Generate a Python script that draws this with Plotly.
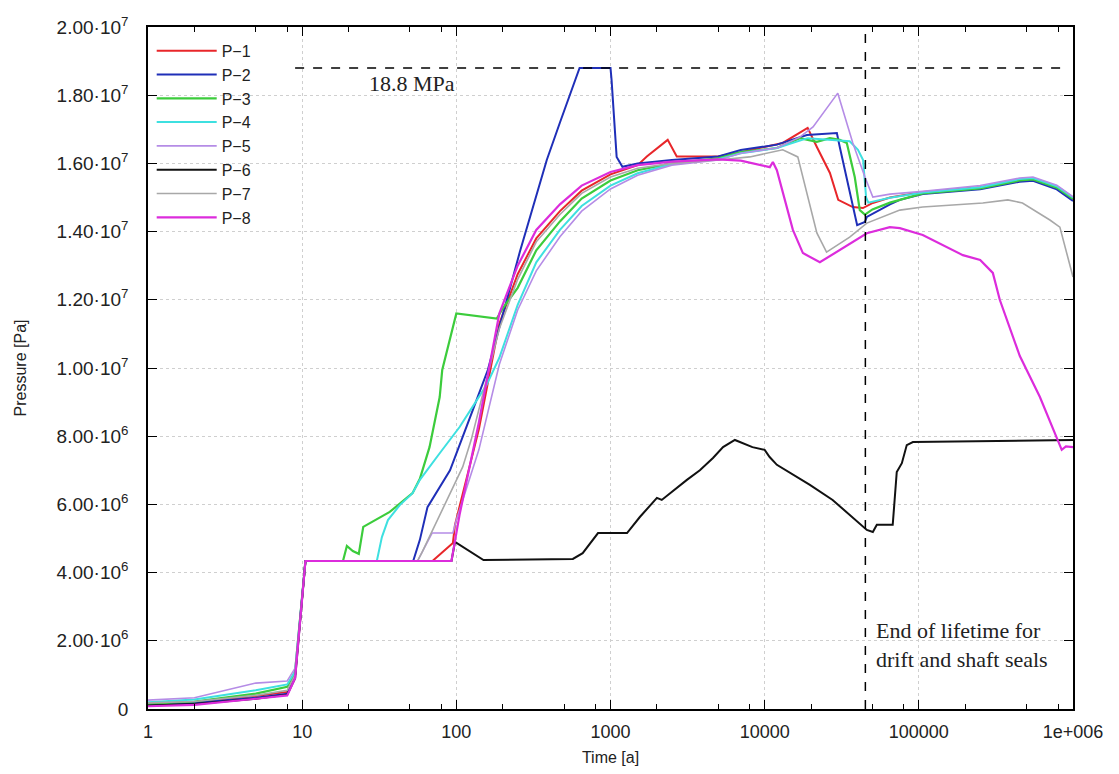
import plotly.graph_objects as go

# ---- data (time in years, pressure in MPa) ----
t_p1 = [1, 2, 5, 8, 9, 10.5, 70, 95, 98, 140, 190, 250, 330, 470, 650, 1000, 1500, 1720, 2350, 2690, 5000, 7000, 13100, 19000, 21800, 26500, 30000, 37300, 43400, 50300, 65000, 106000, 250000, 450000, 550000, 785000, 1000000]
p_p1 = [0.15, 0.2, 0.38, 0.5, 1.0, 4.34, 4.34, 4.87, 5.4, 8.2, 11.3, 12.75, 13.8, 14.6, 15.2, 15.68, 15.95, 16.2, 16.69, 16.2, 16.2, 16.33, 16.6, 17.04, 16.48, 15.72, 14.93, 14.72, 14.69, 14.84, 15.0, 15.16, 15.3, 15.52, 15.54, 15.3, 14.95]

t_p2 = [1, 2, 5, 8, 9, 10.5, 52.5, 58, 65, 91, 128, 160, 258, 386, 470, 630, 1000, 1016, 1096, 1195, 1500, 2500, 5000, 7000, 12000, 18800, 29400, 30700, 39800, 44700, 46000, 65000, 75300, 106000, 250000, 450000, 550000, 785000, 1000000]
p_p2 = [0.12, 0.18, 0.33, 0.45, 1.0, 4.34, 4.34, 4.96, 5.92, 7.0, 8.77, 9.94, 13.4, 16.1, 17.2, 18.8, 18.8, 18.45, 16.19, 15.9, 16.0, 16.1, 16.2, 16.39, 16.55, 16.83, 16.89, 16.48, 14.19, 14.28, 14.43, 14.8, 14.93, 15.1, 15.24, 15.46, 15.49, 15.24, 14.9]

t_p3 = [1, 2, 5, 8, 9, 10.5, 18.4, 19.5, 21.3, 23.3, 24.9, 37, 52, 58, 67, 78, 81, 100, 183, 200, 250, 330, 470, 650, 1000, 1500, 2500, 5000, 7000, 12000, 16900, 21800, 26500, 30700, 34100, 38400, 41400, 44700, 50000, 65000, 75300, 106000, 250000, 450000, 550000, 785000, 1000000]
p_p3 = [0.15, 0.22, 0.45, 0.65, 1.1, 4.34, 4.34, 4.78, 4.63, 4.55, 5.34, 5.78, 6.33, 6.75, 7.68, 9.15, 9.94, 11.6, 11.45, 11.75, 12.35, 13.45, 14.3, 14.97, 15.5, 15.8, 16.0, 16.15, 16.33, 16.45, 16.74, 16.63, 16.74, 16.69, 16.6, 15.6, 14.63, 14.5, 14.65, 14.85, 14.93, 15.12, 15.27, 15.5, 15.53, 15.29, 14.96]

t_p4 = [1, 2, 5, 8, 9, 10.5, 30.5, 32.9, 36, 43, 52, 58, 78, 105, 132, 157, 190, 250, 330, 470, 650, 1000, 1500, 2500, 5000, 7000, 12000, 19000, 35600, 40300, 43500, 45500, 47000, 65000, 106000, 250000, 450000, 550000, 785000, 1000000]
p_p4 = [0.2, 0.28, 0.55, 0.72, 1.1, 4.34, 4.34, 5.04, 5.54, 5.98, 6.33, 6.72, 7.5, 8.27, 8.97, 9.5, 10.3, 11.85, 13.1, 14.05, 14.75, 15.35, 15.71, 15.98, 16.12, 16.3, 16.45, 16.74, 16.65, 16.4, 16.1, 15.0, 14.85, 14.99, 15.15, 15.3, 15.54, 15.57, 15.33, 15.0]

t_p5 = [1, 2, 5, 8, 9, 10.5, 56, 69.6, 95, 100, 140, 190, 250, 330, 470, 650, 1000, 1500, 2500, 5000, 7000, 12000, 16900, 20600, 29800, 37300, 44700, 50300, 65000, 106000, 250000, 450000, 550000, 785000, 1000000]
p_p5 = [0.26, 0.33, 0.76, 0.82, 1.2, 4.34, 4.34, 5.16, 5.16, 5.54, 7.6, 10.1, 11.7, 12.85, 13.85, 14.6, 15.25, 15.65, 15.95, 16.1, 16.3, 16.45, 16.77, 17.07, 18.06, 16.6, 15.6, 15.01, 15.1, 15.18, 15.35, 15.57, 15.6, 15.36, 15.02]

t_p6 = [1, 2, 5, 8, 9, 10.5, 93, 98, 150, 570, 660, 830, 1280, 1550, 2000, 2150, 3130, 3800, 4620, 5370, 6410, 6920, 8330, 10000, 10770, 12000, 19650, 27600, 46000, 50300, 53400, 67700, 71900, 77600, 83500, 91500, 1000000]
p_p6 = [0.1, 0.15, 0.3, 0.42, 0.9, 4.34, 4.34, 4.9, 4.37, 4.40, 4.57, 5.16, 5.16, 5.63, 6.19, 6.13, 6.72, 7.0, 7.36, 7.68, 7.89, 7.83, 7.68, 7.6, 7.39, 7.16, 6.57, 6.13, 5.25, 5.19, 5.4, 5.4, 6.95, 7.21, 7.74, 7.83, 7.89]

t_p7 = [1, 2, 5, 8, 9, 10.5, 56, 60, 110, 125, 190, 250, 330, 470, 650, 1000, 1500, 2500, 5000, 8000, 13100, 16400, 21800, 25200, 35600, 46000, 75300, 106000, 260000, 378000, 470000, 708000, 822000, 1000000]
p_p7 = [0.18, 0.22, 0.4, 0.55, 1.0, 4.34, 4.34, 4.6, 7.1, 7.9, 11.15, 12.6, 13.7, 14.5, 15.12, 15.6, 15.86, 16.0, 16.1, 16.19, 16.4, 16.19, 13.96, 13.4, 13.84, 14.25, 14.63, 14.72, 14.84, 14.93, 14.84, 14.34, 14.13, 12.67]

t_p8 = [1, 2, 5, 8, 9, 10.5, 93, 105, 140, 190, 250, 330, 470, 650, 1000, 1500, 2500, 5000, 7000, 9300, 10800, 11300, 12000, 15240, 17700, 22800, 30700, 46000, 64800, 75300, 106000, 193000, 250000, 302000, 335000, 452000, 610000, 785000, 845000, 900000, 1000000]
p_p8 = [0.08, 0.12, 0.3, 0.4, 0.9, 4.34, 4.34, 5.7, 8.4, 11.6, 13.0, 14.05, 14.8, 15.35, 15.75, 15.95, 16.05, 16.12, 16.08, 15.95, 15.89, 16.04, 15.8, 14.05, 13.37, 13.1, 13.46, 13.95, 14.13, 14.1, 13.9, 13.31, 13.17, 12.79, 12.0, 10.35, 9.15, 7.98, 7.6, 7.7, 7.68]

series_names = ["P\u22121", "P\u22122", "P\u22123", "P\u22124", "P\u22125", "P\u22126", "P\u22127", "P\u22128"]
series_t = [t_p1, t_p2, t_p3, t_p4, t_p5, t_p6, t_p7, t_p8]
series_p = [p_p1, p_p2, p_p3, p_p4, p_p5, p_p6, p_p7, p_p8]
colors = ["#e8262a", "#1f2fb8", "#3ccc3c", "#3ee0e0", "#b58ce6", "#111111", "#a8a8a8", "#dc2cdc"]
widths = [2, 2, 2.2, 2, 1.6, 2, 1.6, 2.2]

limit_t = [9, 850000]
limit_p = [18.8, 18.8]
seal_t = [45000, 45000]
seal_p = [0, 20]

y_ticks_mpa = [0, 2, 4, 6, 8, 10, 12, 14, 16, 18, 20]
y_ticktext = ["0", "2.00\u00b710<sup>6</sup>", "4.00\u00b710<sup>6</sup>", "6.00\u00b710<sup>6</sup>", "8.00\u00b710<sup>6</sup>",
              "1.00\u00b710<sup>7</sup>", "1.20\u00b710<sup>7</sup>", "1.40\u00b710<sup>7</sup>", "1.60\u00b710<sup>7</sup>",
              "1.80\u00b710<sup>7</sup>", "2.00\u00b710<sup>7</sup>"]
x_ticks = [1, 10, 100, 1000, 10000, 100000, 1000000]
x_ticktext = ["1", "10", "100", "1000", "10000", "100000", "1e+006"]
x_minor = [m * 10 ** d for d in range(6) for m in (2, 5, 8)]

fig = go.Figure()
for name, tt, pp, c, w in zip(series_names, series_t, series_p, colors, widths):
    fig.add_trace(go.Scatter(x=tt, y=[v * 1e6 for v in pp], mode="lines", name=name,
                             line=dict(color=c, width=w)))

fig.add_trace(go.Scatter(x=limit_t, y=[v * 1e6 for v in limit_p], mode="lines", showlegend=False,
                         line=dict(color="black", width=1.5, dash="dash")))
fig.add_trace(go.Scatter(x=seal_t, y=[v * 1e6 for v in seal_p], mode="lines", showlegend=False,
                         line=dict(color="black", width=1.5, dash="dash")))

serif = "Liberation Serif, Times New Roman, serif"
fig.add_annotation(x=1.712, y=18.8e6, xref="x", yref="y", text="18.8 MPa", showarrow=False,
                   yanchor="top", yshift=-1, font=dict(family=serif, size=22, color="#222"))
fig.add_annotation(x=4.708, y=1.88e6, xref="x", yref="y", text="End of lifetime for<br>drift and shaft seals",
                   showarrow=False, xanchor="left", yanchor="middle", align="left",
                   font=dict(family=serif, size=22, color="#222"))

fig.update_layout(
    width=1111, height=766,
    margin=dict(l=140, r=46, t=19, b=65),
    paper_bgcolor="white", plot_bgcolor="white",
    font=dict(family="Liberation Sans, Arial, sans-serif", size=16, color="#222"),
    showlegend=True,
    legend=dict(x=0.004, y=0.99, xanchor="left", yanchor="top", bgcolor="rgba(255,255,255,0)",
                font=dict(size=16), itemwidth=60, tracegroupgap=0),
)
fig.update_xaxes(type="log", range=[0, 6], tickvals=x_ticks, ticktext=x_ticktext,
                 tickfont=dict(size=18), ticklabelstandoff=6, automargin=False,
                 showline=True, linecolor="black", linewidth=1.5, mirror="ticks",
                 ticks="inside", ticklen=9, tickcolor="black",
                 showgrid=True, gridcolor="#cfcfcf", griddash="dot", gridwidth=1,
                 minor=dict(tickvals=x_minor, ticks="inside", ticklen=5, tickcolor="black", showgrid=False),
                 title=dict(text="Time [a]", standoff=10, font=dict(size=16)), zeroline=False)
fig.update_yaxes(range=[0, 2e7], tickvals=[v * 1e6 for v in y_ticks_mpa], ticktext=y_ticktext,
                 tickfont=dict(size=19), ticklabelstandoff=14, automargin=False,
                 showline=True, linecolor="black", linewidth=1.5, mirror="ticks",
                 ticks="inside", ticklen=9, tickcolor="black",
                 showgrid=True, gridcolor="#cfcfcf", griddash="dot", gridwidth=1,
                 title=dict(text="Pressure [Pa]", standoff=26, font=dict(size=16)), zeroline=False)

fig.write_html("out.html")
